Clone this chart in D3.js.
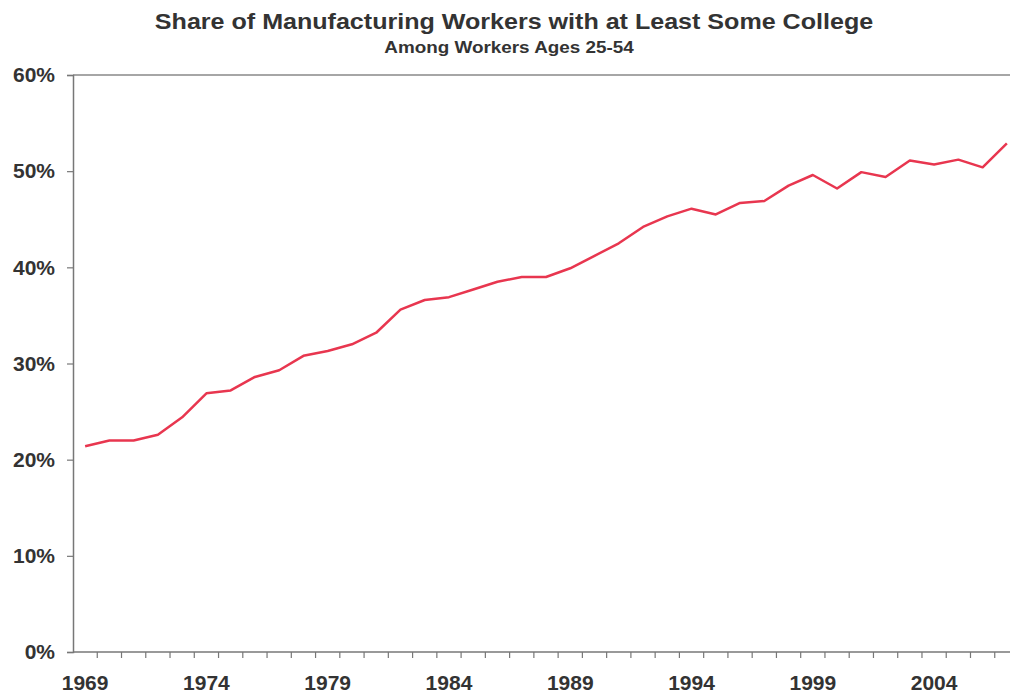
<!DOCTYPE html>
<html>
<head>
<meta charset="utf-8">
<script src="https://cdn.jsdelivr.net/npm/d3@7"></script>
<style>
  body { margin: 0; background: #fff; }
  svg { display: block; overflow: hidden; }
  text { font-family: "Liberation Sans", Arial, sans-serif; font-weight: bold; fill: #333; }
</style>
</head>
<body>
<div id="chart-container"></div>
<script>
// data
const years = d3.range(1969, 2008);
const share = [
    21.4, 22.0, 22.0, 22.6, 24.4, 26.9, 27.2, 28.6, 29.3, 30.8,
    31.3, 32.0, 33.2, 35.6, 36.6, 36.9, 37.7, 38.5, 39.0, 39.0,
    39.9, 41.2, 42.5, 44.2, 45.3, 46.1, 45.5, 46.7, 46.9, 48.5,
    49.6, 48.2, 49.9, 49.4, 51.1, 50.7, 51.2, 50.4, 52.9
];
const yTicks = [0, 10, 20, 30, 40, 50, 60];
const xLabels = ["1969", "1974", "1979", "1984", "1989", "1994", "1999", "2004"];

function drawChart() {
    const width = 1010, height = 695;
    const margin = { top: 75, right: -9, bottom: 43, left: 73 };

    const svg = d3.select("#chart-container")
        .append("svg")
        .attr("width", width)
        .attr("height", height);

    const x = d3.scaleBand()
        .domain(years.map(String))
        .range([margin.left, width - margin.right]);

    const y = d3.scaleLinear()
        .domain([0, 60])
        .range([height - margin.bottom, margin.top]);

    // title
    svg.append("text")
        .attr("transform", `translate(514,29) scale(1.14,1)`)
        .attr("text-anchor", "middle")
        .attr("font-size", 22)
        .text("Share of Manufacturing Workers with at Least Some College");

    svg.append("text")
        .attr("transform", `translate(509,53) scale(1.18,1)`)
        .attr("text-anchor", "middle")
        .attr("font-size", 16)
        .text("Among Workers Ages 25-54");

    // top frame line
    svg.append("line")
        .attr("x1", margin.left).attr("x2", width - margin.right)
        .attr("y1", y(60)).attr("y2", y(60))
        .attr("stroke", "#888").attr("stroke-width", 1.5);

    // y axis
    const yAxis = svg.append("g")
        .attr("transform", `translate(${margin.left},0)`)
        .call(d3.axisLeft(y).tickValues(yTicks).tickSize(6).tickFormat(d => d + "%"));
    yAxis.select(".domain").attr("stroke", "#777").attr("stroke-width", 1.5);
    yAxis.selectAll(".tick line").attr("stroke", "#777").attr("stroke-width", 1.2);
    yAxis.selectAll(".tick text")
        .attr("x", -18)
        .attr("font-size", 21)
        .attr("font-family", null)
        .attr("fill", "#3a3a3a");

    // x axis: ticks sit between the categories
    const xAxis = svg.append("g")
        .attr("transform", `translate(0,${y(0)})`);
    xAxis.append("line")
        .attr("x1", margin.left).attr("x2", width - margin.right)
        .attr("stroke", "#777").attr("stroke-width", 1.5);
    xAxis.selectAll("line.tk")
        .data(years)
        .join("line")
        .attr("class", "tk")
        .attr("x1", d => x(String(d)) + x.bandwidth())
        .attr("x2", d => x(String(d)) + x.bandwidth())
        .attr("y1", 0).attr("y2", 6)
        .attr("stroke", "#777").attr("stroke-width", 1.2);
    xAxis.selectAll("text")
        .data(xLabels)
        .join("text")
        .attr("x", d => x(d) + x.bandwidth() / 2)
        .attr("y", 38)
        .attr("text-anchor", "middle")
        .attr("font-size", 21)
        .attr("fill", "#2a2a2a")
        .text(d => d);

    const line = d3.line()
        .x((_, i) => x(String(years[i])) + x.bandwidth() / 2)
        .y(d => y(d));

    svg.append("path")
        .datum(share)
        .attr("fill", "none")
        .attr("stroke", "#e8364f")
        .attr("stroke-width", 2.5)
        .attr("stroke-linejoin", "round")
        .attr("d", line);
}

document.addEventListener('DOMContentLoaded', drawChart);
</script>
</body>
</html>
